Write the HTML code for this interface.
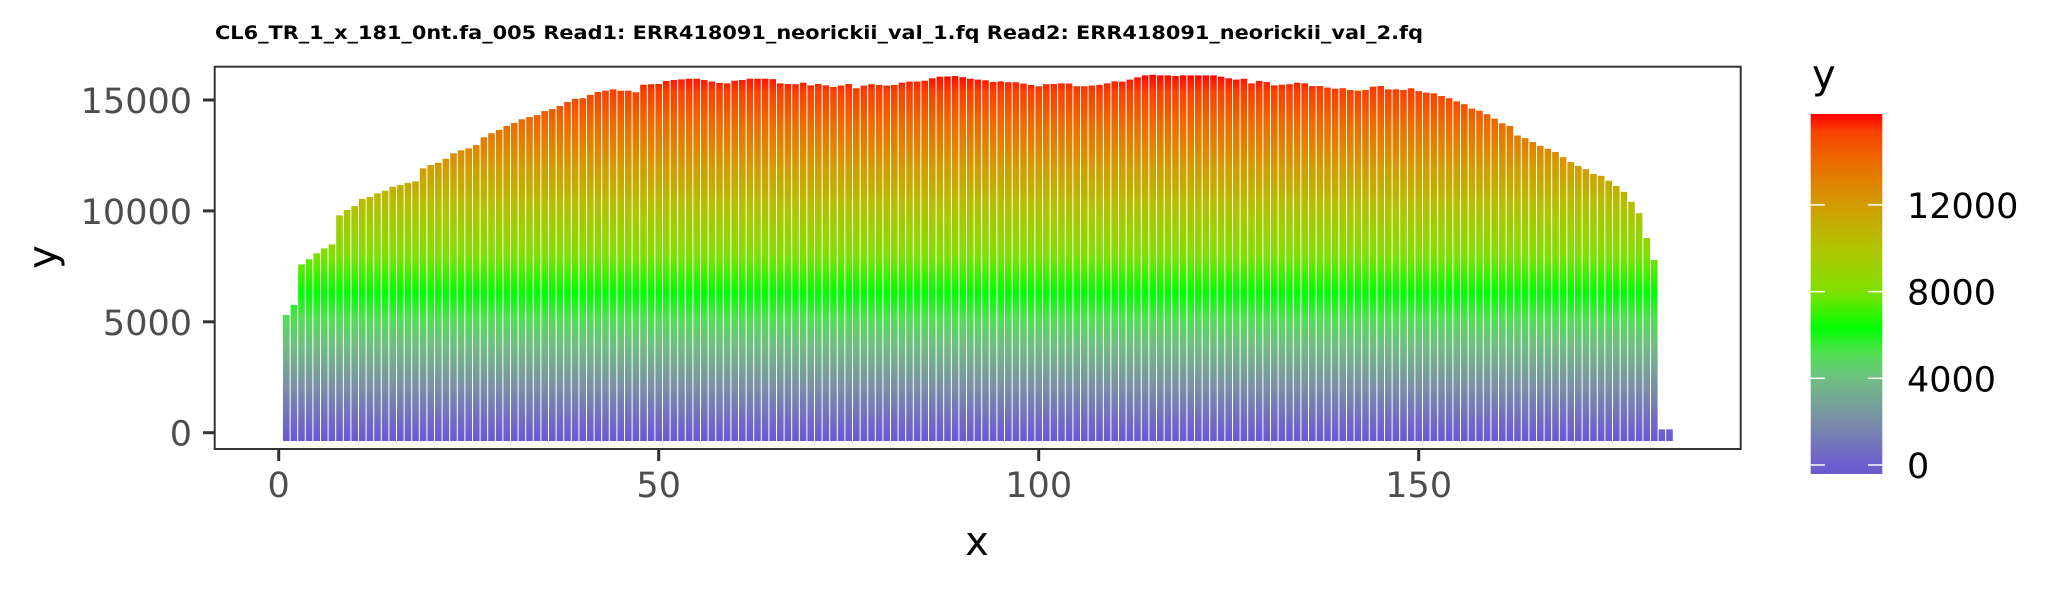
<!DOCTYPE html>
<html>
<head>
<meta charset="utf-8">
<style>
html,body{margin:0;padding:0;background:#fff;}
svg{display:block;}
text{font-family:"DejaVu Sans","Liberation Sans",sans-serif;}
</style>
</head>
<body>
<svg id="chart" width="2066" height="590" viewBox="0 0 2066 590" xmlns="http://www.w3.org/2000/svg">
  <defs>
    <linearGradient id="barGrad" gradientUnits="userSpaceOnUse" x1="0" x2="0"></linearGradient>
    <linearGradient id="legGrad" gradientUnits="userSpaceOnUse" x1="0" x2="0"></linearGradient>
  </defs>
  <rect x="0" y="0" width="2066" height="590" fill="#fff"/>
  <text x="215" y="39" font-size="19" font-weight="bold" fill="#000" textLength="1208" lengthAdjust="spacingAndGlyphs">CL6_TR_1_x_181_0nt.fa_005 Read1: ERR418091_neorickii_val_1.fq Read2: ERR418091_neorickii_val_2.fq</text>
  <g id="bars"></g>
  <rect x="214.7" y="66.7" width="1526" height="382.3" fill="none" stroke="#333" stroke-width="2"/>
  <g id="yaxis"></g>
  <g id="xaxis"></g>
  <text x="977" y="555" font-size="40" text-anchor="middle" fill="#000">x</text>
  <text transform="translate(56,257) rotate(-90)" font-size="40" text-anchor="middle" fill="#000">y</text>
  <g id="legend">
    <text x="1812" y="88" font-size="40" fill="#000">y</text>
    <rect x="1810.7" y="114" width="71.6" height="360" fill="url(#legGrad)"/>
  </g>
</svg>
<script>
const categories = [];
for (let i = 1; i <= 183; i++) categories.push(i);
const values = [
5310,5760,7590,7820,8090,8310,8490,9800,10040,10220,
10540,10630,10790,10910,11090,11170,11260,11330,11920,12070,
12170,12350,12600,12730,12820,12970,13320,13500,13650,13830,
13960,14130,14230,14320,14500,14590,14730,14910,15050,15080,
15230,15360,15420,15480,15420,15420,15350,15690,15710,15720,
15860,15900,15930,15960,15960,15900,15830,15770,15750,15870,
15900,15960,15960,15960,
15940,15750,15720,15710,15780,15660,15720,15660,15590,15650,
15720,15530,15650,15710,15680,15650,15680,15780,15830,15830,
15870,15980,16050,16060,16080,16030,15960,15920,15890,15810,
15840,15800,15800,15740,15680,15620,15710,15720,15750,15740,
15620,15620,15650,15680,15750,15840,15830,15920,16020,16110,
16140,16110,16110,16080,16110,16110,16110,16110,16110,16050,
15980,15920,15960,15750,15860,
15810,15660,15690,15710,15780,15750,15630,15630,15560,15510,
15530,15450,15420,15450,15600,15630,15480,15480,15450,15530,
15400,15330,15300,15180,15080,14940,14810,14610,14520,14360,
14160,13950,13830,13400,13280,13110,12930,12800,12660,12420,
12200,12030,11880,11670,11580,11360,11130,10860,10410,9900,
8780,7790,150,150
];
const yTicks = [0, 5000, 10000, 15000];
const yTickLabels = ["0", "5000", "10000", "15000"];
const xTicks = [0, 50, 100, 150];
const xTickLabels = ["0", "50", "100", "150"];
const legendTicks = [0, 4000, 8000, 12000];
const legendTickLabels = ["0", "4000", "8000", "12000"];
const colorStopValues = [-400, 0, 2000, 4000, 5200, 6300, 8000, 10000, 12000, 14000, 15400, 16190];
const colorStopColors = ["#6a5acd","#6d5fcf","#7a8ea8","#6fbf82","#50e050","#00ff00","#80e000","#b0c400","#d29c00","#ec6a00","#f84000","#ff0000"];

const NS = "http://www.w3.org/2000/svg";
const xScale = v => 278.7 + v * 7.6;
const yScale = v => 432.7 - v * 0.02218;
const legScale = v => 465 - v * 0.021675;
const barBase = -375;
const barW = 6.6;

function mk(tag, attrs, parent) {
  const el = document.createElementNS(NS, tag);
  for (const k in attrs) el.setAttribute(k, attrs[k]);
  parent.appendChild(el);
  return el;
}
function fillGrad(id, scale) {
  const g = document.getElementById(id);
  const lo = colorStopValues[0], hi = colorStopValues[colorStopValues.length - 1];
  g.setAttribute('y1', scale(lo));
  g.setAttribute('y2', scale(hi));
  colorStopValues.forEach((v, i) => {
    mk('stop', {offset: (v - lo) / (hi - lo), 'stop-color': colorStopColors[i]}, g);
  });
}
fillGrad('barGrad', yScale);
fillGrad('legGrad', legScale);

const barsG = document.getElementById('bars');
categories.forEach((c, i) => {
  const top = yScale(values[i]);
  const bot = yScale(barBase);
  const r = mk('rect', {x: xScale(c) - barW / 2, y: top, width: barW, height: bot - top, fill: 'url(#barGrad)'}, barsG);
  
  
});

const yG = document.getElementById('yaxis');
yTicks.forEach((v, i) => {
  const y = yScale(v);
  const t = mk('line', {x1: 203, x2: 214, y1: y, y2: y, stroke: '#333', 'stroke-width': 3}, yG);
  
  
  const l = mk('text', {x: 192, y: y + 13, 'font-size': 35, 'text-anchor': 'end', fill: '#4d4d4d'}, yG);
  l.textContent = yTickLabels[i];
  
  
});

const xG = document.getElementById('xaxis');
xTicks.forEach((v, i) => {
  const x = xScale(v);
  const t = mk('line', {x1: x, x2: x, y1: 450, y2: 461, stroke: '#333', 'stroke-width': 3}, xG);
  
  
  const l = mk('text', {x: x, y: 497, 'font-size': 35, 'text-anchor': 'middle', fill: '#4d4d4d'}, xG);
  l.textContent = xTickLabels[i];
  
  
});

const legG = document.getElementById('legend');
legendTicks.forEach((v, i) => {
  const y = legScale(v);
  const a = mk('line', {x1: 1810.7, x2: 1825, y1: y, y2: y, stroke: '#fff', 'stroke-width': 1.5}, legG);
  
  
  const b = mk('line', {x1: 1868, x2: 1882.3, y1: y, y2: y, stroke: '#fff', 'stroke-width': 1.5}, legG);
  
  
  const l = mk('text', {x: 1907, y: y + 13, 'font-size': 35, fill: '#000'}, legG);
  l.textContent = legendTickLabels[i];
  
  
});
</script>
</body>
</html>
